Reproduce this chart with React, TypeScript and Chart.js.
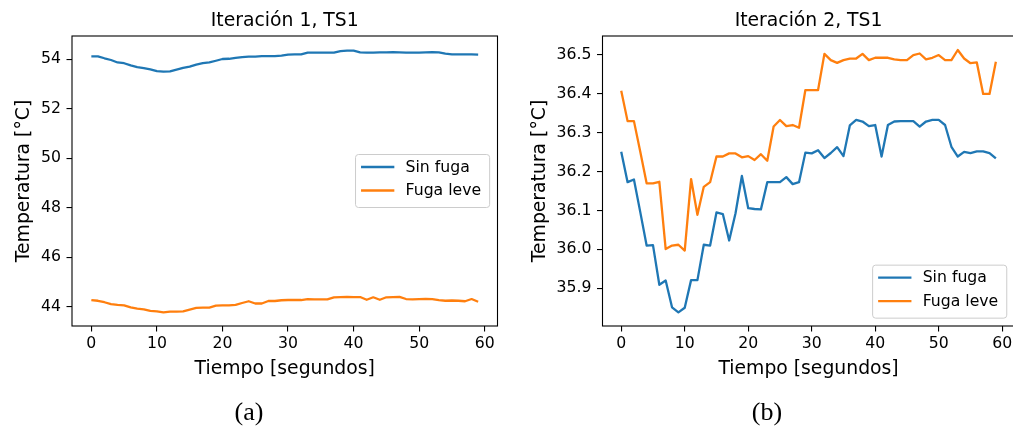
import React, { useEffect, useRef } from 'react';
import { Chart, registerables } from 'chart.js';

Chart.register(...registerables);

const FONT = '"DejaVu Sans", sans-serif';

// ---- data ----
const timeSeconds = [
  0, 1, 2, 3, 4, 5, 6, 7, 8, 9, 10, 11, 12, 13, 14, 15, 16, 17, 18, 19,
  20, 21, 22, 23, 24, 25, 26, 27, 28, 29, 30, 31, 32, 33, 34, 35, 36, 37, 38, 39,
  40, 41, 42, 43, 44, 45, 46, 47, 48, 49, 50, 51, 52, 53, 54, 55, 56, 57, 58, 59,
];

const it1SinFuga = [
  54.12, 54.12, 54.04, 53.97, 53.87, 53.84, 53.75, 53.68, 53.64, 53.59,
  53.52, 53.50, 53.51, 53.58, 53.65, 53.70, 53.78, 53.84, 53.87, 53.94,
  54.01, 54.02, 54.06, 54.09, 54.11, 54.11, 54.13, 54.13, 54.13, 54.15,
  54.19, 54.20, 54.20, 54.27, 54.27, 54.27, 54.27, 54.27, 54.33, 54.35,
  54.35, 54.28, 54.27, 54.27, 54.28, 54.28, 54.29, 54.28, 54.27, 54.27,
  54.27, 54.28, 54.29, 54.28, 54.23, 54.20, 54.20, 54.20, 54.20, 54.19,
];

const it1FugaLeve = [
  44.27, 44.24, 44.18, 44.10, 44.07, 44.05, 43.97, 43.92, 43.89, 43.83,
  43.81, 43.77, 43.80, 43.80, 43.81, 43.88, 43.95, 43.96, 43.96, 44.04,
  44.05, 44.05, 44.07, 44.15, 44.22, 44.13, 44.13, 44.23, 44.23, 44.26,
  44.27, 44.27, 44.27, 44.31, 44.30, 44.30, 44.30, 44.38, 44.39, 44.40,
  44.39, 44.39, 44.28, 44.38, 44.28, 44.38, 44.39, 44.40, 44.31, 44.30,
  44.31, 44.32, 44.31, 44.27, 44.24, 44.25, 44.24, 44.22, 44.31, 44.20,
];

const it2SinFuga = [
  36.251, 36.173, 36.180, 36.096, 36.010, 36.011, 35.909, 35.920, 35.851, 35.838,
  35.850, 35.921, 35.921, 36.012, 36.010, 36.095, 36.091, 36.023, 36.093, 36.189,
  36.106, 36.104, 36.103, 36.173, 36.173, 36.173, 36.186, 36.168, 36.173, 36.249,
  36.247, 36.255, 36.235, 36.248, 36.263, 36.240, 36.319, 36.333, 36.329, 36.317,
  36.320, 36.239, 36.320, 36.329, 36.330, 36.330, 36.330, 36.316, 36.329, 36.333,
  36.333, 36.320, 36.264, 36.239, 36.251, 36.248, 36.252, 36.252, 36.248, 36.234,
];

const it2FugaLeve = [
  36.408, 36.330, 36.330, 36.251, 36.170, 36.170, 36.174, 36.001, 36.010, 36.012,
  35.997, 36.181, 36.089, 36.161, 36.173, 36.239, 36.239, 36.247, 36.247, 36.237,
  36.240, 36.230, 36.245, 36.228, 36.316, 36.333, 36.317, 36.320, 36.313, 36.410,
  36.410, 36.410, 36.503, 36.487, 36.480, 36.487, 36.491, 36.491, 36.503, 36.487,
  36.493, 36.493, 36.493, 36.489, 36.487, 36.487, 36.500, 36.504, 36.489, 36.493,
  36.500, 36.487, 36.487, 36.513, 36.491, 36.479, 36.481, 36.400, 36.400, 36.483,
];

const xTicks = [0, 10, 20, 30, 40, 50, 60];
const yTicksIt1 = [44, 46, 48, 50, 52, 54];
const yTicksIt2 = [35.9, 36.0, 36.1, 36.2, 36.3, 36.4, 36.5];

const seriesLabels = ['Sin fuga', 'Fuga leve'];
const seriesColors = ['#1f77b4', '#ff7f0e'];

// ---- plugins ----
const spinesPlugin = {
  id: 'spines',
  afterDatasetsDraw(chart: any) {
    const { ctx, chartArea: a } = chart;
    ctx.save();
    ctx.strokeStyle = '#000';
    ctx.lineWidth = 1.1;
    ctx.strokeRect(a.left, a.top, a.right - a.left, a.bottom - a.top);
    ctx.restore();
  },
};

const innerLegendPlugin = {
  id: 'innerLegend',
  afterDraw(chart: any, _args: any, opts: any) {
    const { ctx, chartArea: a } = chart;
    const fs = 15.7;
    ctx.save();
    ctx.font = `${fs}px ${FONT}`;
    const items = chart.data.datasets.map((d: any) => ({ label: d.label, color: d.borderColor }));
    const textW = Math.max(...items.map((i: any) => ctx.measureText(i.label).width));
    const w = 50 + textW + 8.5;
    const h = 53;
    const pad = 7.85;
    const x = a.right - pad - w;
    const y = opts.loc === 'lower right' ? a.bottom - pad - h : (a.top + a.bottom) / 2 - h / 2;
    const r = 3;
    ctx.beginPath();
    ctx.moveTo(x + r, y);
    ctx.lineTo(x + w - r, y);
    ctx.arcTo(x + w, y, x + w, y + r, r);
    ctx.lineTo(x + w, y + h - r);
    ctx.arcTo(x + w, y + h, x + w - r, y + h, r);
    ctx.lineTo(x + r, y + h);
    ctx.arcTo(x, y + h, x, y + h - r, r);
    ctx.lineTo(x, y + r);
    ctx.arcTo(x, y, x + r, y, r);
    ctx.closePath();
    ctx.fillStyle = 'rgba(255,255,255,0.8)';
    ctx.fill();
    ctx.strokeStyle = '#cccccc';
    ctx.lineWidth = 1;
    ctx.stroke();
    items.forEach((it: any, k: number) => {
      const cy = y + 12.5 + k * 23.5;
      ctx.beginPath();
      ctx.strokeStyle = it.color;
      ctx.lineWidth = 2.3;
      ctx.moveTo(x + 5.5, cy);
      ctx.lineTo(x + 38.8, cy);
      ctx.stroke();
      ctx.fillStyle = '#000';
      ctx.textBaseline = 'middle';
      ctx.textAlign = 'left';
      ctx.fillText(it.label, x + 50, cy + 0.5);
    });
    ctx.restore();
  },
};

type PanelProps = {
  title: string;
  a: number[];
  b: number[];
  yMin: number;
  yMax: number;
  xMin: number;
  xMax: number;
  yTicks: number[];
  decimals: number;
  yWidth: number;
  yTitlePad: number;
  padRight: number;
  legendLoc: string;
  width: number;
  left: number;
};

function Panel(p: PanelProps) {
  const ref = useRef<HTMLCanvasElement | null>(null);
  useEffect(() => {
    if (!ref.current) return;
    const tickFont = { size: 15.7, family: FONT };
    const labelFont = { size: 18.8, family: FONT, weight: 'normal' as const };
    const mk = (vals: number[], k: number) => ({
      label: seriesLabels[k],
      data: timeSeconds.map((t, i) => ({ x: t, y: vals[i] })),
      borderColor: seriesColors[k],
      backgroundColor: seriesColors[k],
      borderWidth: 2.3,
      pointRadius: 0,
      tension: 0,
      fill: false,
      borderJoinStyle: 'round' as const,
      order: 1 - k,
    });
    const grid = {
      drawOnChartArea: false,
      drawTicks: true,
      tickLength: 5.5,
      color: '#000',
      lineWidth: 1.1,
    };
    const chart = new Chart(ref.current, {
      type: 'line',
      data: { datasets: [mk(p.a, 0), mk(p.b, 1)] },
      plugins: [spinesPlugin, innerLegendPlugin],
      options: {
        animation: false,
        responsive: false,
        maintainAspectRatio: false,
        events: [],
        layout: { padding: { left: 0, right: p.padRight, top: 0, bottom: 0 } },
        plugins: {
          legend: { display: false },
          tooltip: { enabled: false },
          title: {
            display: true,
            text: p.title,
            fullSize: false,
            color: '#000',
            font: labelFont,
            padding: { top: 9.5, bottom: 3.94 },
          },
          innerLegend: { loc: p.legendLoc },
        } as any,
        scales: {
          x: {
            type: 'linear',
            min: p.xMin,
            max: p.xMax,
            afterBuildTicks: (s: any) => {
              s.ticks = xTicks.map((v) => ({ value: v }));
            },
            afterFit: (s: any) => {
              s.height = 108;
            },
            ticks: {
              font: tickFont,
              color: '#000',
              padding: 3,
              maxRotation: 0,
              autoSkip: false,
              callback: (v: any) => String(v),
            },
            grid,
            border: { display: false },
            title: {
              display: true,
              text: 'Tiempo [segundos]',
              color: '#000',
              font: labelFont,
              padding: { top: 0, bottom: 53.7 },
            },
          },
          y: {
            type: 'linear',
            min: p.yMin,
            max: p.yMax,
            afterBuildTicks: (s: any) => {
              s.ticks = p.yTicks.map((v) => ({ value: v }));
            },
            afterFit: (s: any) => {
              s.width = p.yWidth;
            },
            ticks: {
              font: tickFont,
              color: '#000',
              padding: 5.5,
              autoSkip: false,
              callback: (v: any) => Number(v).toFixed(p.decimals),
            },
            grid,
            border: { display: false },
            title: {
              display: true,
              text: 'Temperatura [°C]',
              color: '#000',
              font: labelFont,
              padding: { top: p.yTitlePad, bottom: 0 },
            },
          },
        },
      } as any,
    });
    return () => chart.destroy();
  }, []);
  return (
    <canvas
      ref={ref}
      width={p.width}
      height={434}
      style={{ position: 'absolute', left: p.left, top: 0, width: p.width, height: 434 }}
    />
  );
}

const captionStyle: React.CSSProperties = {
  position: 'absolute',
  top: 398,
  width: 100,
  textAlign: 'center',
  fontFamily: '"Liberation Serif", serif',
  fontSize: 26,
  lineHeight: '28px',
  color: '#000',
};

export default function App() {
  return (
    <div
      style={{
        position: 'fixed',
        left: 0,
        top: 0,
        width: 1013,
        height: 434,
        overflow: 'hidden',
        background: '#fff',
      }}
    >
      <Panel
        title="Iteración 1, TS1"
        a={it1SinFuga}
        b={it1FugaLeve}
        yMin={43.22}
        yMax={54.94}
        xMin={-2.95}
        xMax={61.95}
        yTicks={yTicksIt1}
        decimals={0}
        yWidth={72}
        yTitlePad={13.2}
        padRight={12.5}
        legendLoc="center right"
        width={510}
        left={0}
      />
      <Panel
        title="Iteración 2, TS1"
        a={it2SinFuga}
        b={it2FugaLeve}
        yMin={35.803}
        yMax={36.549}
        xMin={-2.95}
        xMax={61.95}
        yTicks={yTicksIt2}
        decimals={1}
        yWidth={87.5}
        yTitlePad={14.2}
        padRight={20.4}
        legendLoc="lower right"
        width={520}
        left={515}
      />
      <div style={{ ...captionStyle, left: 199 }}>(a)</div>
      <div style={{ ...captionStyle, left: 717 }}>(b)</div>
    </div>
  );
}
